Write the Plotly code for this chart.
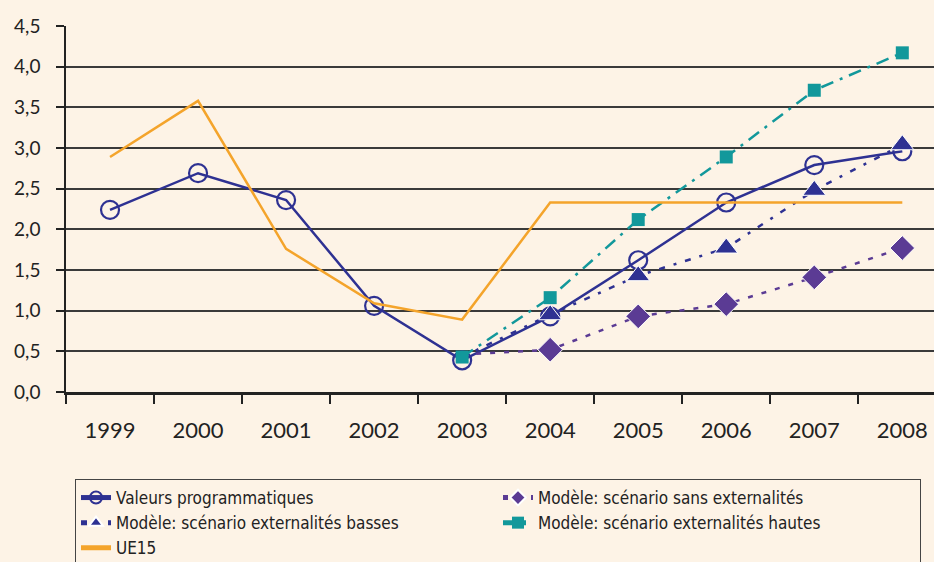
import plotly.graph_objects as go

years = ["1999", "2000", "2001", "2002", "2003", "2004", "2005", "2006", "2007", "2008"]
model_years = ["2003", "2004", "2005", "2006", "2007", "2008"]

valeurs_prog = [2.24, 2.69, 2.36, 1.06, 0.39, 0.93, 1.62, 2.33, 2.79, 2.96]
sans_ext = [0.46, 0.52, 0.93, 1.08, 1.41, 1.77]
ext_basses = [0.43, 0.95, 1.43, 1.77, 2.48, 3.04]
ext_hautes = [0.43, 1.16, 2.12, 2.89, 3.71, 4.17]
ue15 = [2.89, 3.58, 1.76, 1.09, 0.89, 2.33, 2.33, 2.33, 2.33, 2.33]

ytick_vals = [0, 0.5, 1, 1.5, 2, 2.5, 3, 3.5, 4, 4.5]
ytick_text = ["0,0", "0,5", "1,0", "1,5", "2,0", "2,5", "3,0", "3,5", "4,0", "4,5"]

NAVY = "#2E3192"
PURPLE = "#5B3B94"
TEAL = "#12989B"
ORANGE = "#F4A42B"
BG = "#FDF3E6"

# the 2003 starting point of these model series carries no visible marker
def sizes(n, s):
    return [0] + [s] * (n - 1)

fig = go.Figure()

fig.add_trace(go.Scatter(
    x=years, y=valeurs_prog, name="Valeurs programmatiques",
    mode="lines+markers",
    line=dict(color=NAVY, width=2.5),
    marker=dict(symbol="circle-open", size=18, color=NAVY, line=dict(width=2.2, color=NAVY)),
))
fig.add_trace(go.Scatter(
    x=model_years, y=sans_ext, name="Modèle: scénario sans externalités",
    mode="lines+markers",
    line=dict(color=PURPLE, width=2.5, dash="5px,9px"),
    marker=dict(symbol="diamond", size=sizes(len(model_years), 19), color=PURPLE, opacity=1),
))
fig.add_trace(go.Scatter(
    x=model_years, y=ext_basses, name="Modèle: scénario externalités basses",
    mode="lines+markers",
    line=dict(color=NAVY, width=2.5, dash="6px,9px,3px,9px"),
    marker=dict(symbol="triangle-up", size=sizes(len(model_years), 20), color=NAVY, opacity=1),
))
fig.add_trace(go.Scatter(
    x=model_years, y=ext_hautes, name="Modèle: scénario externalités hautes",
    mode="lines+markers",
    line=dict(color=TEAL, width=2.5, dash="13px,7px,3px,7px"),
    marker=dict(symbol="square", size=13, color=TEAL, opacity=1),
))
fig.add_trace(go.Scatter(
    x=years, y=ue15, name="UE15",
    mode="lines",
    line=dict(color=ORANGE, width=2.5),
))

fig.update_layout(
    width=934, height=562,
    paper_bgcolor=BG, plot_bgcolor=BG,
    margin=dict(l=66, r=0, t=26, b=170),
    font=dict(family="Lato, 'DejaVu Sans', sans-serif", color="#222222"),
    showlegend=True,
    legend=dict(
        orientation="h",
        xref="container", yref="container",
        x=75 / 934, y=1 - 479 / 562, xanchor="left", yanchor="top",
        bgcolor=BG, bordercolor="#444444", borderwidth=1,
        font=dict(family="'DejaVu Sans Condensed', 'Liberation Sans Narrow', Roboto, sans-serif",
                  size=17, color="#222222"),
        entrywidth=377,
        itemsizing="constant",
    ),
)

fig.update_xaxes(
    type="category",
    categoryorder="array", categoryarray=years,
    range=[-0.5, 9.36],
    automargin=False,
    showgrid=False,
    showline=True, linecolor="#222222", linewidth=2.5,
    ticks="outside", tickson="boundaries", ticklen=9, tickwidth=1.5, tickcolor="#222222",
    tickfont=dict(size=22, color="#222222"),
    ticklabelstandoff=17,
)
fig.update_yaxes(
    range=[0, 4.5],
    automargin=False,
    tickvals=ytick_vals, ticktext=ytick_text,
    showgrid=True, gridcolor="#3a3a3a", gridwidth=1.5,
    showline=True, linecolor="#222222", linewidth=1.5,
    ticks="outside", ticklen=8, tickwidth=1.5, tickcolor="#222222",
    tickfont=dict(size=19, color="#222222"),
    ticklabelstandoff=12,
    zeroline=False,
)

fig.write_html(
    "out.html",
    config={"displayModeBar": False},
    post_script="document.body.style.margin='0px';document.body.style.background='#FDF3E6';",
)
